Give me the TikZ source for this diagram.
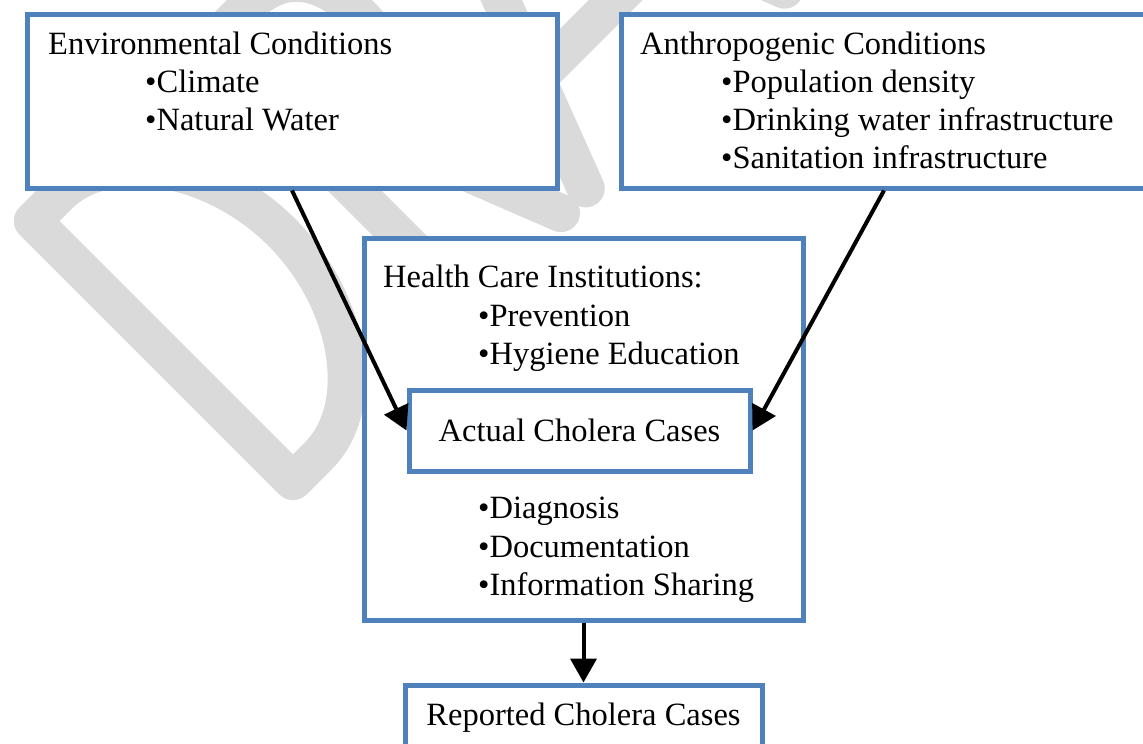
\documentclass[tikz,border=0pt]{standalone}
\usepackage{fontspec}
\setmainfont{Liberation Serif}
\usetikzlibrary{arrows.meta}
\definecolor{boxblue}{RGB}{79,129,189}
\definecolor{wmgray}{RGB}{218,218,218}
\begin{document}
\begin{tikzpicture}[x=1pt,y=-1pt,
  box/.style={draw=boxblue, line width=5pt, fill=white, rectangle, inner sep=0pt,
    font=\fontsize{32.5}{38}\selectfont},
  txt/.style={anchor=base west, inner sep=0pt, font=\fontsize{32.5}{38}\selectfont},
  conn/.style={draw=black, line width=4pt, -{Triangle[length=24pt,width=26pt]}},
  wm/.style={draw=wmgray, line width=38pt, line join=round, line cap=round}]
\useasboundingbox (0,0) rectangle (1143,744);
\clip (0,0) rectangle (1143,744);
\fill[white] (0,0) rectangle (1143,744);

% watermark "DRAFT" (only D, R, A visible)
\begin{scope}[shift={(293,508)}, rotate=45]
  \draw[wm] (19,-19) -- (19,-387) -- (55,-387)
     .. controls (125,-387) and (187,-300) .. (187,-203)
     .. controls (187,-106) and (125,-19) .. (55,-19) -- cycle;
  \draw[wm] (268,-19) -- (268,-387) -- (325,-387)
     .. controls (372,-387) and (396,-355) .. (396,-300)
     .. controls (396,-245) and (370,-212) .. (320,-212) -- (268,-212);
  \draw[wm] (322,-212) -- (398,-19);
  \draw[wm] (433,-19) -- (573,-387) -- (714,-19);
  \draw[wm] (476,-131) -- (671,-131);
\end{scope}

% boxes
\node[box, minimum width=530pt, minimum height=174pt] (env) at (292,101) {};
\node[box, minimum width=526pt, minimum height=174pt] (anth) at (884,101) {};
\node[box, minimum width=439pt, minimum height=382pt] (health) at (583.5,429) {};
\node[box, minimum width=341pt, minimum height=81pt] (actual) at (579.5,430.5) {Actual Cholera Cases};
\node[box, minimum width=357pt, minimum height=66pt] (rep) at (583.5,718) {Reported Cholera Cases};

% texts
\node[txt] (e0) at (48,54) {Environmental Conditions};
\node[txt] (e1) at (145,92) {•Climate};
\node[txt] (e2) at (145,130) {•Natural Water};

\node[txt] (a0) at (640,54) {Anthropogenic Conditions};
\node[txt] (a1) at (721,92) {•Population density};
\node[txt] (a2) at (721,130) {•Drinking water infrastructure};
\node[txt] (a3) at (721,168) {•Sanitation infrastructure};

\node[txt] (h0) at (383,287) {Health Care Institutions:};
\node[txt] (h1) at (478,326) {•Prevention};
\node[txt] (h2) at (478,364) {•Hygiene Education};
\node[txt] (h3) at (478,518) {•Diagnosis};
\node[txt] (h4) at (478,557) {•Documentation};
\node[txt] (h5) at (478,595) {•Information Sharing};

% connectors
\draw[conn] (env.south) -- (actual.west);
\draw[conn] (anth.south) -- (actual.east);
\draw[conn] (health.south) -- (rep.north);
\end{tikzpicture}
\end{document}
